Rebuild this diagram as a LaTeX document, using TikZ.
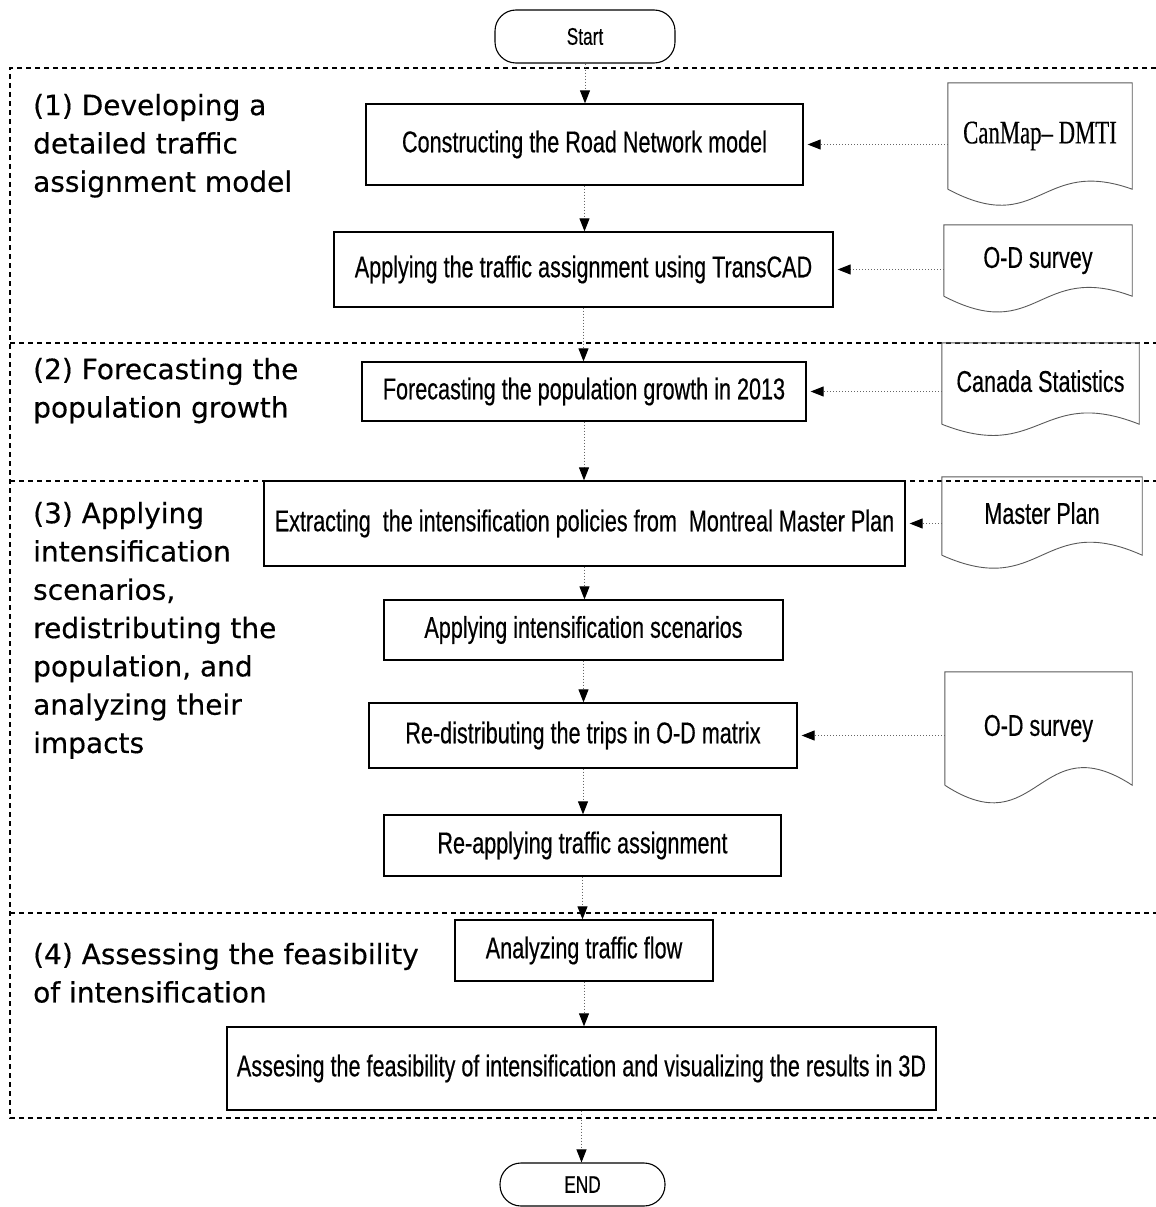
\documentclass[tikz,border=0pt]{standalone}
\usepackage{fontspec}
\usetikzlibrary{arrows.meta,calc}
\newfontfamily\narrowsans[FakeStretch=0.72,FakeBold=0.4]{Liberation Sans}
\newfontfamily\narrowserif[FakeStretch=0.69,FakeBold=0.3]{Liberation Serif}
\newfontfamily\labelsans[FakeBold=0.4]{DejaVu Sans}

\begin{document}
\begin{tikzpicture}[x=1pt,y=-1pt,
  stepbox/.style={draw=black, line width=1.3pt, inner sep=0pt,
    font=\narrowsans\fontsize{30}{34}\selectfont},
  terminal/.style={draw=black, line width=1.1pt, rounded corners=21pt, inner sep=0pt,
    font=\narrowsans\fontsize{24}{28}\selectfont},
  docbox/.style={inner sep=0pt, font=\narrowsans\fontsize{30}{34}\selectfont},
  docline/.style={draw=black!65, line width=0.9pt},
  sectline/.style={dash pattern=on 5pt off 4pt, line width=1.3pt},
  flow/.style={draw=black!60, dotted, line width=1pt,
    -{Triangle[length=13pt,width=10pt,color=black]}},
  secttext/.style={anchor=north west, inner sep=0pt, align=left,
    font=\labelsans\fontsize{28}{38.3}\selectfont}
]
\useasboundingbox (0,0) rectangle (1156,1207);

% section frame and dividers
\draw[sectline] (1156,68) -- (10,68) -- (10,1118) -- (1156,1118);
\draw[sectline] (10,343) -- (1156,343);
\draw[sectline] (10,481) -- (1156,481);
\draw[sectline] (10,913) -- (1156,913);

% section titles
\node[secttext] (s1) at (33,93.7) {(1) Developing a\\detailed traffic\\assignment model};
\node[secttext] (s2) at (33,357.7) {(2) Forecasting the\\population growth};
\node[secttext] (s3) at (33,501.7) {(3) Applying\\intensification\\scenarios,\\redistributing the\\population, and\\analyzing their\\impacts};
\node[secttext] (s4) at (33,942.7) {(4) Assessing the feasibility\\of intensification};

% terminals
\node[terminal, minimum width=180, minimum height=53] (start) at (585,36.5) {Start};
\node[terminal, minimum width=165, minimum height=43] (end) at (582.5,1184.5) {END};

% process steps
\node[stepbox, minimum width=437, minimum height=81] (b1) at (584.5,144.5) {Constructing the Road Network model};
\node[stepbox, minimum width=499, minimum height=75] (b2) at (583.5,269.5) {Applying the traffic assignment using TransCAD};
\node[stepbox, minimum width=444, minimum height=59] (b3) at (584,391.5) {Forecasting the population growth in 2013};
\node[stepbox, minimum width=641, minimum height=85] (b4) at (584.5,523.5) {Extracting\ \ the intensification policies from\ \ Montreal Master Plan};
\node[stepbox, minimum width=399, minimum height=60] (b5) at (583.5,630) {Applying intensification scenarios};
\node[stepbox, minimum width=428, minimum height=65] (b6) at (583,735.5) {Re-distributing the trips in O-D matrix};
\node[stepbox, minimum width=397, minimum height=61] (b7) at (582.5,845.5) {Re-applying traffic assignment};
\node[stepbox, minimum width=258, minimum height=61] (b8) at (584,950.5) {Analyzing traffic flow};
\node[stepbox, minimum width=709, minimum height=83] (b9) at (581.5,1068.5) {Assesing the feasibility of intensification and visualizing the results in 3D};

% data sources (document shapes)
\node[docbox, font=\narrowserif\fontsize{33}{36}\selectfont,
      minimum width=184, minimum height=106] (canmap) at (1040,136) {\raisebox{3pt}{CanMap– DMTI}};
\node[docbox, minimum width=188, minimum height=71] (od1) at (1038,260.5) {\raisebox{1pt}{O-D survey}};
\node[docbox, minimum width=197, minimum height=81] (canada) at (1040.5,383.5) {\raisebox{5pt}{Canada Statistics}};
\node[docbox, minimum width=200, minimum height=78] (master) at (1042,516) {\raisebox{6pt}{Master Plan}};
\node[docbox, minimum width=187, minimum height=113] (od2) at (1038.5,728.5) {\raisebox{6pt}{O-D survey}};

\foreach \d/\dn/\up in {canmap/49/33, od1/49/35, canada/39/39, master/45/45, od2/61/61} {
  \draw[docline] (\d.south west) -- (\d.north west) -- (\d.north east) -- (\d.south east)
    .. controls ($(\d.south)+(0,-\up)$) and ($(\d.south)+(0,\dn)$) .. (\d.south west);
}

% main flow
\draw[flow] (start.south) -- (start.south |- b1.north);
\draw[flow] (b1.south) -- (b1.south |- b2.north);
\draw[flow] (b2.south) -- (b2.south |- b3.north);
\draw[flow] (b3.south) -- (b3.south |- b4.north);
\draw[flow] (b4.south) -- (b4.south |- b5.north);
\draw[flow] (b5.south) -- (b5.south |- b6.north);
\draw[flow] (b6.south) -- (b6.south |- b7.north);
\draw[flow] (b7.south) -- (b7.south |- b8.north);
\draw[flow] (b8.south) -- (b8.south |- b9.north);
\draw[flow] (b9.south) -- (b9.south |- end.north);

% inputs from data sources
\draw[flow, shorten >=4pt] (canmap.west |- b1.east) -- (b1.east);
\draw[flow, shorten >=4pt] (od1.west |- b2.east) -- (b2.east);
\draw[flow, shorten >=4pt] (canada.west |- b3.east) -- (b3.east);
\draw[flow, shorten >=4pt] (master.west |- b4.east) -- (b4.east);
\draw[flow, shorten >=4pt] (od2.west |- b6.east) -- (b6.east);
\end{tikzpicture}
\end{document}
